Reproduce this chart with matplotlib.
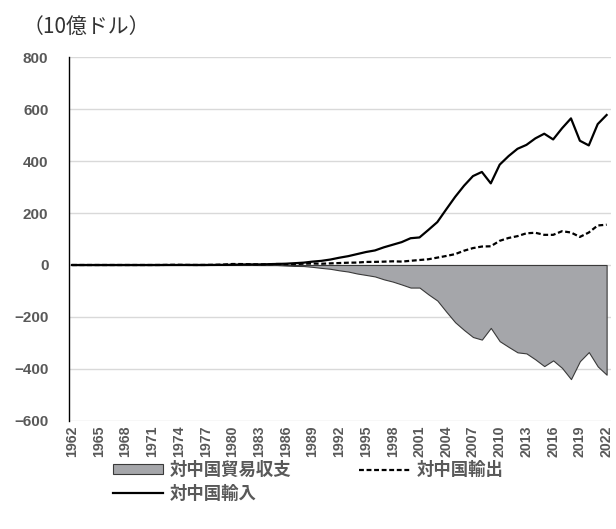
import matplotlib
matplotlib.use("Agg")
import matplotlib.pyplot as plt
from matplotlib.ticker import FixedLocator

# US trade with China, billions of USD
years = list(range(1962, 2023))

exports = [0, 0, 0, 0, 0, 0, 0, 0, 0, 0,
           0.1, 0.7, 0.8, 0.3, 0.1, 0.2, 0.8, 1.7, 3.8, 3.6,
           2.9, 2.2, 3.0, 3.9, 3.1, 3.5, 5.0, 5.8, 4.8, 6.3,
           7.5, 8.8, 9.3, 11.8, 12.0, 12.9, 14.2, 13.1, 16.2, 19.2,
           22.1, 28.4, 34.7, 41.8, 55.0, 65.0, 71.0, 72.0, 93.0, 104.0,
           111.0, 122.0, 124.0, 116.0, 116.0, 130.0, 125.0, 108.0, 125.0, 152.0,
           155.0]

imports = [0, 0, 0, 0, 0, 0, 0, 0, 0, 0,
           0.1, 0.1, 0.1, 0.2, 0.2, 0.2, 0.3, 0.6, 1.1, 1.9,
           2.3, 2.2, 3.1, 4.0, 5.0, 7.0, 9.0, 13.0, 16.0, 21.0,
           28.0, 34.0, 42.0, 50.0, 56.0, 68.0, 78.0, 88.0, 103.0, 106.0,
           135.0, 165.0, 214.0, 262.0, 305.0, 342.0, 358.0, 314.0, 386.0, 419.0,
           447.0, 462.0, 487.0, 505.0, 483.0, 526.0, 564.0, 478.0, 460.0, 542.0,
           577.0]

balance = [0, 0, 0, 0, 0, 0, 0, 0, 0, 0,
           0.0, 0.6, 0.7, 0.1, -0.1, 0.0, 0.5, 1.1, 2.7, 1.7,
           0.6, 0.0, -0.1, -0.1, -1.9, -3.5, -4.0, -7.2, -11.2, -14.7,
           -20.5, -25.2, -32.7, -38.2, -44.0, -55.1, -63.8, -74.9, -86.8, -86.8,
           -112.9, -136.6, -179.3, -220.2, -250.0, -277.0, -287.0, -242.0, -293.0, -315.0,
           -336.0, -340.0, -363.0, -389.0, -367.0, -396.0, -439.0, -370.0, -335.0, -390.0,
           -422.0]

y_ticks = [-600, -400, -200, 0, 200, 400, 600, 800]
x_tick_years = list(range(1962, 2023, 3))

unit_label = "（10億ドル）"
label_balance = "対中国貿易収支"
label_exports = "対中国輸出"
label_imports = "対中国輸入"

TEXT_GRAY = "#595959"
GRID_GRAY = "#d9d9d9"
AREA_GRAY = "#a5a6aa"
CJK = ["Noto Sans CJK JP", "DejaVu Sans"]

fig = plt.figure(figsize=(6.16, 5.29), dpi=100)
ax = fig.add_axes([0.1125, 0.2042, 0.8795, 0.688])

area = ax.fill_between(years, balance, 0, facecolor=AREA_GRAY,
                       edgecolor="#3a3a3a", linewidth=0.8, zorder=2,
                       label=label_balance)
ln_exp, = ax.plot(years, exports, color="black", linewidth=1.6,
                  linestyle=(0, (2.2, 1.2)), zorder=3, label=label_exports)
ln_imp, = ax.plot(years, imports, color="black", linewidth=1.6,
                  zorder=4, label=label_imports)

ax.set_ylim(-600, 800)
ax.set_xlim(1961.7, 2022.5)
ax.yaxis.set_major_locator(FixedLocator(y_ticks))
ax.set_xticks(x_tick_years)
ax.set_xticklabels([str(y) for y in x_tick_years], rotation=90)

ax.grid(axis="y", color=GRID_GRAY, linewidth=1.0, zorder=0)
ax.set_axisbelow(True)
for side in ("top", "right", "bottom"):
    ax.spines[side].set_visible(False)
ax.spines["left"].set_color("black")
ax.spines["left"].set_linewidth(1.0)

ax.tick_params(axis="y", length=0, colors=TEXT_GRAY, pad=15)
ax.tick_params(axis="x", length=0, colors=TEXT_GRAY, pad=3)
for lab in ax.get_yticklabels():
    lab.set_fontfamily("Liberation Sans")
    lab.set_fontweight("bold")
    lab.set_fontsize(11)
for lab in ax.get_xticklabels():
    lab.set_fontfamily("Liberation Sans")
    lab.set_fontweight("bold")
    lab.set_fontsize(10.2)

fig.text(0.0365, 0.949, unit_label, fontsize=15, color="#333333",
         family=CJK, va="center", ha="left")

leg = fig.legend(handles=[area, ln_imp, ln_exp],
                 labels=[label_balance, label_imports, label_exports],
                 ncol=2, loc="upper left", bbox_to_anchor=(0.183, 0.128),
                 frameon=False, handlelength=2.9, handleheight=0.5,
                 handletextpad=0.4, columnspacing=3.9, labelspacing=0.3,
                 borderaxespad=0, borderpad=0,
                 prop={"family": CJK, "weight": "bold", "size": 12.5})
for t in leg.get_texts():
    t.set_color(TEXT_GRAY)

fig.savefig("out.png", dpi=100)
